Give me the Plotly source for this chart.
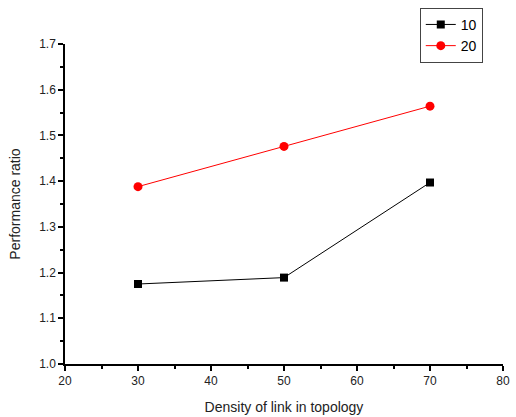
import plotly.graph_objects as go

density = [30, 50, 70]
ratio_10 = [1.175, 1.189, 1.397]
ratio_20 = [1.388, 1.476, 1.564]
series_names = ["10", "20"]

fig = go.Figure()
fig.add_trace(go.Scatter(x=density, y=ratio_10, name=series_names[0], mode="lines+markers",
                         line=dict(color="black", width=1),
                         marker=dict(symbol="square", size=8, color="black")))
fig.add_trace(go.Scatter(x=density, y=ratio_20, name=series_names[1], mode="lines+markers",
                         line=dict(color="red", width=1),
                         marker=dict(symbol="circle", size=9, color="red")))

axis_common = dict(showline=True, linecolor="black", linewidth=1.5, ticks="outside",
                   ticklen=5, tickwidth=1.5, tickcolor="black", showgrid=False, zeroline=False,
                   tickfont=dict(family="Liberation Sans, Arial", size=12, color="#222"),
                   mirror=False, automargin=False)

fig.update_xaxes(range=[20, 80], dtick=10, **axis_common,
                 minor=dict(ticks="outside", ticklen=3, tickwidth=1.5, tickcolor="black", dtick=5),
                 title=dict(text="Density of link in topology",
                            font=dict(family="Liberation Sans, Arial", size=14, color="#222"),
                            standoff=15))
fig.update_yaxes(range=[1.0, 1.7], dtick=0.1, tickformat=".1f", **axis_common,
                 minor=dict(ticks="outside", ticklen=3, tickwidth=1.5, tickcolor="black", dtick=0.05),
                 title=dict(text="Performance ratio",
                            font=dict(family="Liberation Sans, Arial", size=14, color="#222"),
                            standoff=15))

fig.update_layout(width=516, height=417, margin=dict(l=65, r=13, t=44, b=53, autoexpand=False),
                  plot_bgcolor="white", paper_bgcolor="white",
                  legend=dict(x=0.81, y=1.113, xanchor="left", yanchor="top",
                              bordercolor="#444", borderwidth=1, bgcolor="white",
                              font=dict(family="Liberation Sans, Arial", size=14, color="black"),
                              tracegroupgap=0, itemwidth=30))

fig.write_html("out.html")
